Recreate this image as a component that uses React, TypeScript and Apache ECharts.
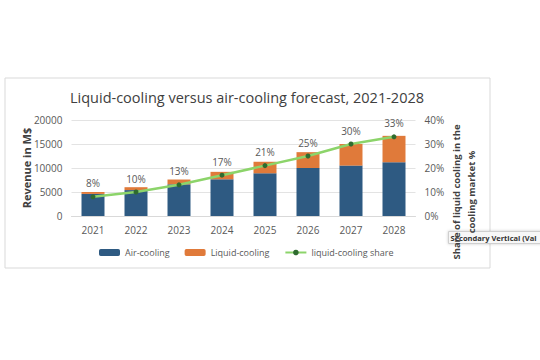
import React, { useEffect, useRef } from "react";
import * as echarts from "echarts";

const categories = ["2021", "2022", "2023", "2024", "2025", "2026", "2027", "2028"];
const airCooling = [4600, 5400, 6600, 7650, 8900, 10000, 10500, 11200];
const liquidCooling = [400, 600, 1000, 1550, 2400, 3300, 4500, 5500];
const liquidShare = [8, 10, 13, 17, 21, 25, 30, 33];

const FONT = "Open Sans";

export default function App() {
  const ref = useRef<HTMLDivElement>(null);
  useEffect(() => {
    if (!ref.current) return;
    const chart = echarts.init(ref.current, undefined, { renderer: "svg" });
    chart.setOption({
      animation: false,
      backgroundColor: "#ffffff",
      textStyle: { fontFamily: FONT },
      title: {
        text: "Liquid-cooling versus air-cooling forecast, 2021-2028",
        left: 242,
        textAlign: "center",
        top: 85,
        textStyle: { fontSize: 14.5, fontWeight: "normal", color: "#404040", fontFamily: FONT },
      },
      legend: {
        left: 99,
        top: 248,
        padding: 0,
        itemWidth: 21,
        itemHeight: 7,
        itemGap: 15,
        textStyle: { fontSize: 9, color: "#595959", fontFamily: FONT },
        data: ["Air-cooling", "Liquid-cooling", "liquid-cooling share"],
      },
      grid: { left: 71.5, right: 124.5, top: 120, bottom: 144 },
      xAxis: {
        type: "category",
        data: categories,
        axisLine: { lineStyle: { color: "#d9d9d9" } },
        axisTick: { show: false },
        axisLabel: { color: "#595959", fontSize: 10, margin: 9 },
      },
      yAxis: [
        {
          type: "value",
          min: 0,
          max: 20000,
          interval: 5000,
          name: "Revenue in M$",
          nameLocation: "middle",
          nameRotate: 90,
          nameGap: 40,
          nameMoveOverlap: false,
          nameTextStyle: { fontSize: 11, fontWeight: "bold", color: "#404040" },
          axisLabel: {
            color: "#595959",
            fontSize: 10,
            margin: 9,
            formatter: (v: number) => String(v),
          },
          splitLine: { lineStyle: { color: "#e3e3e3" } },
        },
        {
          type: "value",
          min: 0,
          max: 40,
          interval: 10,
          position: "right",
          name: "Share of liquid cooling in the\ncooling market %",
          nameLocation: "middle",
          nameRotate: 90,
          nameGap: 33,
          nameMoveOverlap: false,
          nameTextStyle: {
            fontSize: 9.5,
            fontWeight: "bold",
            color: "#404040",
            lineHeight: 15,
            padding: [0, 48, 0, 0],
          },
          axisLabel: { color: "#595959", fontSize: 10, margin: 9, formatter: "{value}%" },
          splitLine: { show: false },
        },
      ],
      series: [
        {
          name: "Air-cooling",
          type: "bar",
          stack: "rev",
          barWidth: 23,
          data: airCooling,
          itemStyle: { color: "#2E5A82" },
        },
        {
          name: "Liquid-cooling",
          type: "bar",
          stack: "rev",
          barWidth: 23,
          data: liquidCooling,
          itemStyle: { color: "#E07A3A" },
        },
        {
          name: "liquid-cooling share",
          type: "line",
          yAxisIndex: 1,
          data: liquidShare,
          symbol: "circle",
          symbolSize: 5,
          lineStyle: { color: "#8CD46A", width: 2.5 },
          itemStyle: { color: "#2F6B2F" },
          label: {
            show: true,
            position: "top",
            distance: 6,
            formatter: "{c}%",
            fontSize: 10,
            color: "#595959",
          },
          z: 5,
        },
      ],
      graphic: [
        {
          type: "rect",
          shape: { x: 5, y: 78, width: 485, height: 190 },
          style: { fill: "none", stroke: "#d9d9d9", lineWidth: 1 },
          z: -1,
          silent: true,
        },
        {
          type: "group",
          left: 448,
          top: 231,
          z: 100,
          children: [
            {
              type: "rect",
              shape: { x: 0, y: 0, width: 100, height: 12 },
              style: {
                fill: "#f7f7f7",
                stroke: "#cfcfcf",
                lineWidth: 1,
                shadowBlur: 3,
                shadowColor: "rgba(0,0,0,0.2)",
              },
            },
            {
              type: "text",
              x: 2,
              y: 6,
              style: {
                text: "Secondary Vertical (Val",
                fontSize: 7.5,
                fontWeight: "bold",
                fill: "#333333",
                fontFamily: FONT,
                verticalAlign: "middle",
              },
            },
          ],
        },
      ],
    });
    return () => chart.dispose();
  }, []);
  return (
    <div
      ref={ref}
      style={{ position: "fixed", left: 0, top: 0, width: 540, height: 360 }}
    />
  );
}
